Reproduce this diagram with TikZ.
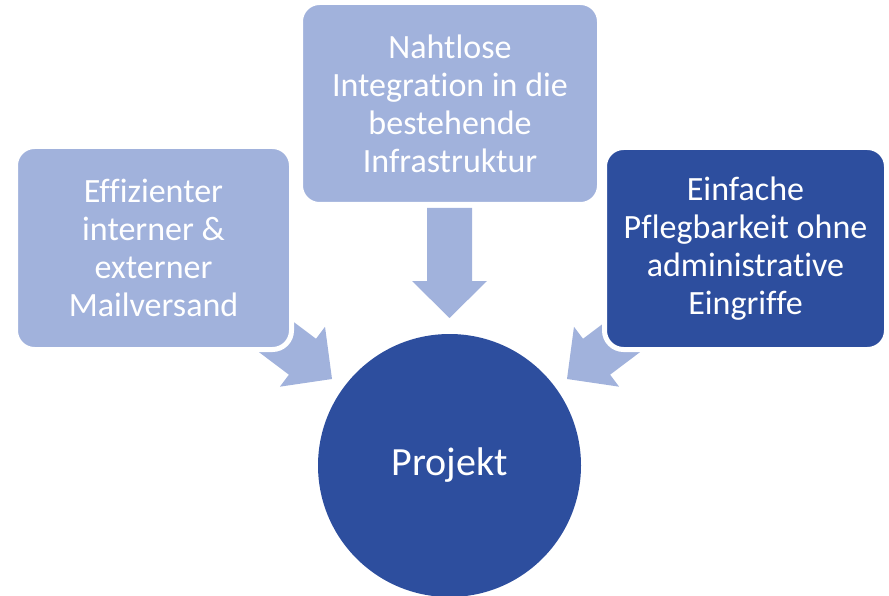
\documentclass[tikz,border=0pt]{standalone}
\usepackage{fontspec}
\setmainfont{Carlito}[Ligatures=NoCommon]
\definecolor{lightblue}{RGB}{161,178,220}
\definecolor{darkblue}{RGB}{45,78,158}
\begin{document}
\begin{tikzpicture}[x=1pt,y=-1pt,
  box/.style={rectangle, rounded corners=19pt, draw=white, line width=5pt,
    text=white, align=center, inner sep=0pt,
    font=\fontsize{34}{38}\selectfont},
  bigarrow/.pic={\fill[lightblue] (0,0) -- (37.5,-37) -- (22.5,-37) -- (22.5,-110)
    -- (-22.5,-110) -- (-22.5,-37) -- (-37.5,-37) -- cycle;}]
\useasboundingbox (0,0) rectangle (889,596);
% arrow tips
\coordinate (tipL) at (332,379);
\coordinate (tipM) at (449.5,318);
\coordinate (tipR) at (567,379);
\pic[rotate=53] at (tipL) {bigarrow};
\pic at (tipM) {bigarrow};
\pic[rotate=-53] at (tipR) {bigarrow};
% boxes
\node[box, fill=lightblue, minimum width=276pt, minimum height=203pt] (mail) at (153.5,248)
  {Effizienter\\interner \&\\externer\\Mailversand};
\node[box, fill=lightblue, minimum width=299pt, minimum height=202pt] (integ) at (450,103.5)
  {Nahtlose\\Integration in die\\bestehende\\Infrastruktur};
\node[box, fill=darkblue, minimum width=282pt, minimum height=202pt] (pflege) at (745.5,248.5)
  {Einfache\\Pflegbarkeit ohne\\administrative\\Eingriffe};
\node[circle, fill=darkblue, minimum size=263pt, inner sep=0pt, text=white,
  font=\fontsize{40}{48}\selectfont] (projekt) at (449.5,465.5) {Projekt};
\end{tikzpicture}
\end{document}
